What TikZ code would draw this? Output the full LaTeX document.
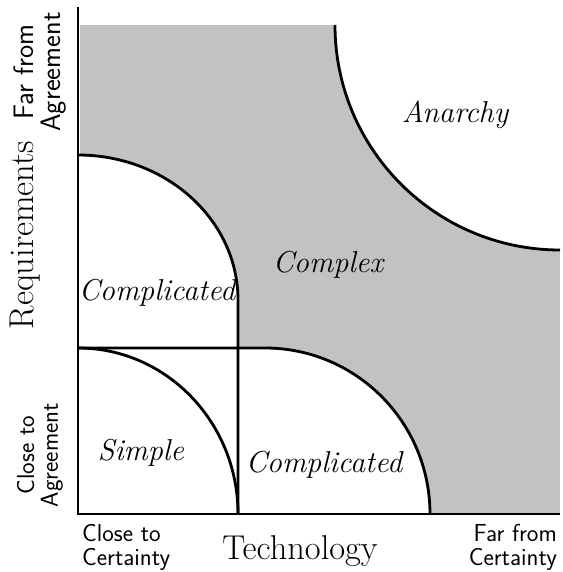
\documentclass[tikz,border=0pt]{standalone}
\usepackage{tikz}

\tikzset{
  region/.style={font=\fontsize{21.5}{24}\selectfont\itshape},
  pole/.style={font=\sffamily\fontsize{17.5}{17}\selectfont},
  axislabel/.style={font=\fontsize{24.5}{27}\selectfont},
}

\begin{document}
\begin{tikzpicture}[x=0.25mm, y=0.25mm, line width=2pt]
    \useasboundingbox (-78,-58) rectangle (485,514);

    % Shade the whole field
    \fill[gray!48] (2,0) rectangle (482,489);

    % Clear the white regions
    \fill[white] (257,489) arc[start angle=180, end angle=270, radius=225] -- (482,489) -- cycle;
    \fill[white] (2,0) -- (2,359) arc[start angle=90, end angle=0, x radius=158, y radius=145] -- (160,0) -- cycle;
    \fill[white] (160,0) -- (160,166) -- (187,166) arc[start angle=90, end angle=0, x radius=165, y radius=166] -- cycle;

    % Draw the axes
    \draw (0,507) -- (0,0) -- (482,0);

    % Draw the boundaries
    \draw (257,489) arc[start angle=180, end angle=270, radius=225];
    \draw (0,359) arc[start angle=90, end angle=0, x radius=160, y radius=145] -- (160,0);
    \draw (0,166) -- (187,166) arc[start angle=90, end angle=0, x radius=165, y radius=166];
    \draw (0,166) arc[start angle=90, end angle=0, x radius=160, y radius=166];

    % Label the regions
    \node[region] (anarchy) at (377,399) {Anarchy};
    \node[region] (complex) at (250,249) {Complex};
    \node[region] (complicatedtop) at (79,221) {Complicated};
    \node[region] (simple) at (63,61) {Simple};
    \node[region] (complicatedright) at (246,49) {Complicated};

    % Label the axes
    \node[pole, anchor=west, align=left] (closecert) at (-2,-33) {Close to\\Certainty};
    \node[axislabel] (technology) at (222,-37) {Technology};
    \node[pole, anchor=east, align=right] (farcert) at (485,-33) {Far from\\Certainty};
    \node[axislabel, rotate=90] (requirements) at (-53,279) {Requirements};
    \node[pole, rotate=90, align=center, font=\sffamily\fontsize{20}{19}\selectfont] (faragree) at (-38,442) {Far from\\Agreement};
    \node[pole, rotate=90, align=center] (closeagree) at (-38,59) {Close to\\Agreement};
\end{tikzpicture}
\end{document}
